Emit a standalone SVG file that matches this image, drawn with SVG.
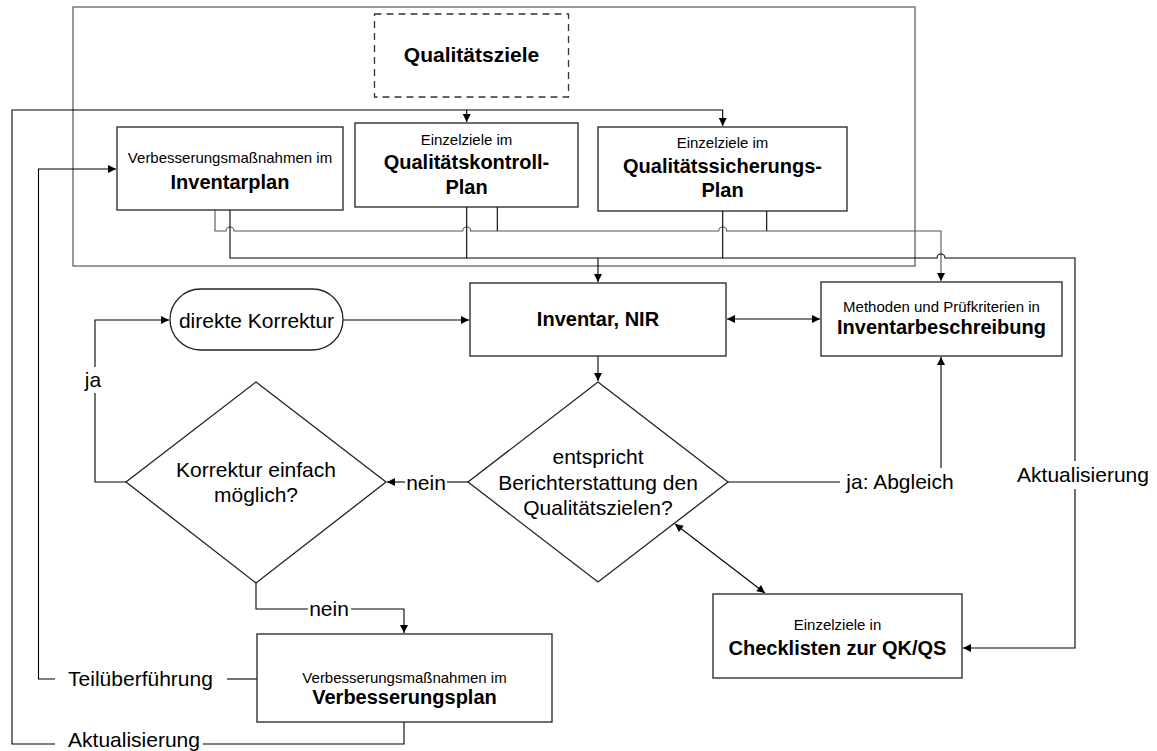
<svg xmlns="http://www.w3.org/2000/svg" width="1157" height="751" viewBox="0 0 1157 751">
  <defs>
    <marker id="arrow" viewBox="0 0 10 10" refX="10" refY="5" markerWidth="9" markerHeight="8" markerUnits="userSpaceOnUse" orient="auto-start-reverse">
      <path d="M0,0 L10,5 L0,10 z" fill="#000"/>
    </marker>
    <style>
      text { font-family: "Liberation Sans", Arial, sans-serif; fill: #000; text-anchor: middle; }
      .small { font-size: 15px; }
      .title { font-size: 20px; font-weight: bold; }
      .big { font-size: 21px; font-weight: bold; }
      .label { font-size: 21px; }
      .box { fill: #fff; stroke: #222; stroke-width: 1.3; }
      .frame { fill: none; stroke: #555; stroke-width: 1.2; }
      .dashed { fill: #fff; stroke: #333; stroke-width: 1.3; stroke-dasharray: 7 5; }
      .conn { fill: none; stroke: #000; stroke-width: 1.1; }
      .conn-grey { fill: none; stroke: #555; stroke-width: 1.1; }
      .arr { marker-end: url(#arrow); }
      .both { marker-start: url(#arrow); marker-end: url(#arrow); }
    </style>
  </defs>

  <rect width="1157" height="751" fill="#fff"/>

  <!-- enclosing frame of the quality objectives -->
  <g id="frame-qualitaetsziele">
    <rect class="frame" x="73" y="7" width="842" height="259"/>
  </g>

  <!-- connectors -->
  <g id="connectors">
    <!-- plans to inventory description (grey bus with line hops) -->
    <path class="conn-grey arr" d="M215,210 V231 H226 A4,4 0 0 1 234,231 H462.7 A4,4 0 0 1 470.7,231 H718.7 A4,4 0 0 1 726.7,231 H941 V281"/>
    <path class="conn" d="M497.3,207 V231"/>
    <path class="conn" d="M766.7,211 V231"/>

    <!-- plans to inventory and checklists -->
    <path class="conn" d="M230,210 V258 H937 A4,4 0 0 1 945,258 H1075 V461"/>
    <path class="conn arr" d="M1075,489 V648 H963"/>
    <path class="conn" d="M466.7,207 V258"/>
    <path class="conn" d="M722.7,211 V258"/>
    <path class="conn arr" d="M598,258 V282"/>

    <!-- update loop from improvement plan back to the plans -->
    <path class="conn" d="M404,722 V744 H203"/>
    <path class="conn arr" d="M55,744 H12 V110 H722.7 V126"/>
    <path class="conn arr" d="M466.7,110 V122"/>

    <!-- partial transfer into the inventory plan -->
    <path class="conn" d="M257,679 H227"/>
    <path class="conn arr" d="M55,679 H38.5 V169 H116"/>

    <!-- direct correction into inventory -->
    <path class="conn arr" d="M343,320 H469"/>
    <path class="conn both" d="M727,319 H820"/>
    <path class="conn arr" d="M598,356 V381"/>

    <!-- decision: nein -->
    <path class="conn" d="M468,482 H447"/>
    <path class="conn arr" d="M405,482 H387"/>

    <!-- decision: ja -->
    <path class="conn" d="M126,482 H95 V393"/>
    <path class="conn arr" d="M95,367 V320 H169"/>

    <!-- decision: nein to improvement plan -->
    <path class="conn" d="M256,583 V609 H308"/>
    <path class="conn arr" d="M351,609 H404 V633"/>

    <!-- ja: Abgleich -->
    <path class="conn" d="M728,482 H840"/>
    <path class="conn arr" d="M941,468 V357"/>

    <!-- decision to checklists -->
    <path class="conn both" d="M675,524 L765,593"/>

    <!-- connector labels -->
    <text class="label" x="426" y="489.5">nein</text>
    <text class="label" x="93" y="387">ja</text>
    <text class="label" x="329" y="616">nein</text>
    <text class="label" x="140.5" y="685.5">Teilüberführung</text>
    <text class="label" x="134" y="747">Aktualisierung</text>
    <text class="label" x="1083" y="482">Aktualisierung</text>
    <text class="label" x="900" y="489">ja: Abgleich</text>
  </g>

  <g id="n-qualitaetsziele">
    <rect class="dashed" x="374.5" y="14" width="194" height="83"/>
    <text class="big" x="471.5" y="62">Qualitätsziele</text>
  </g>

  <g id="n-inventarplan">
    <rect class="box" x="117" y="127" width="226" height="83"/>
    <text class="small" x="230" y="163">Verbesserungsmaßnahmen im</text>
    <text class="title" x="230" y="189">Inventarplan</text>
  </g>

  <g id="n-qk-plan">
    <rect class="box" x="355" y="123" width="223" height="84"/>
    <text class="small" x="466.5" y="145">Einzelziele im</text>
    <text class="title" x="466.5" y="169">Qualitätskontroll-</text>
    <text class="title" x="466.5" y="194">Plan</text>
  </g>

  <g id="n-qs-plan">
    <rect class="box" x="598" y="127" width="249" height="84"/>
    <text class="small" x="722.5" y="148">Einzelziele im</text>
    <text class="title" x="722.5" y="173">Qualitätssicherungs-</text>
    <text class="title" x="722.5" y="197">Plan</text>
  </g>

  <g id="n-direkte-korrektur">
    <rect class="box" x="170" y="289" width="173" height="61" rx="30.5" ry="30.5"/>
    <text class="label" x="256.5" y="327.5">direkte Korrektur</text>
  </g>

  <g id="n-inventar">
    <rect class="box" x="470" y="283" width="256" height="73"/>
    <text class="title" x="598" y="326">Inventar, NIR</text>
  </g>

  <g id="n-inventarbeschreibung">
    <rect class="box" x="821" y="282" width="241" height="74"/>
    <text class="small" x="941.5" y="312">Methoden und Prüfkriterien in</text>
    <text class="title" x="941.5" y="334">Inventarbeschreibung</text>
  </g>

  <g id="n-korrektur-einfach">
    <polygon class="box" points="256,382 386,482 256,583 126,482"/>
    <text class="label" x="256" y="477">Korrektur einfach</text>
    <text class="label" x="256" y="502">möglich?</text>
  </g>

  <g id="n-berichterstattung">
    <polygon class="box" points="598,382 728,482 598,582 468,482"/>
    <text class="label" x="598" y="464">entspricht</text>
    <text class="label" x="598" y="490">Berichterstattung den</text>
    <text class="label" x="598" y="515">Qualitätszielen?</text>
  </g>

  <g id="n-checklisten">
    <rect class="box" x="713" y="594" width="249" height="84"/>
    <text class="small" x="837.5" y="630">Einzelziele in</text>
    <text class="title" x="837.5" y="655">Checklisten zur QK/QS</text>
  </g>

  <g id="n-verbesserungsplan">
    <rect class="box" x="257" y="634" width="295" height="88"/>
    <text class="small" x="404.5" y="683">Verbesserungsmaßnahmen im</text>
    <text class="title" x="404.5" y="704">Verbesserungsplan</text>
  </g>
</svg>
